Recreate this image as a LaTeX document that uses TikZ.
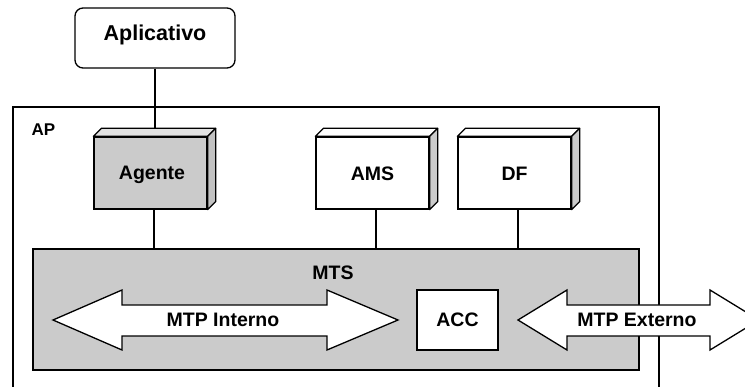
\documentclass[tikz,border=0pt]{standalone}
\usepackage{fontspec}
\setmainfont{Liberation Sans}
\usetikzlibrary{calc}
\definecolor{shade}{HTML}{CBCBCB}
\definecolor{shadetop}{HTML}{E2E2E2}
\definecolor{shadeside}{HTML}{C2C2C2}
\begin{document}
\begin{tikzpicture}[x=1pt,y=-1pt,
  txt/.style={font=\bfseries\fontsize{19.5}{21}\selectfont},
  frame/.style={draw=black,line width=1.3pt},
  front/.style={frame,minimum width=113pt,minimum height=72pt,inner sep=0pt,txt},
  link/.style={draw=black,line width=2pt},
  bigarrow/.style={frame,fill=white,line join=miter}]
\useasboundingbox (0,0) rectangle (745,387);
\clip (0,0) rectangle (745,387);
\fill[white] (0,0) rectangle (745,387);

% agent platform frame, open at the bottom of the page
\draw[frame] (13,400) -- (13,107) -- (659,107) -- (659,400);
\node[txt,font=\bfseries\fontsize{17}{19}\selectfont,anchor=west] (ap) at (28,130) {AP};

% application box
\node[frame,rounded corners=8pt,minimum width=160pt,minimum height=60pt,inner sep=0pt] (apl) at (155,38) {};
\node[txt,font=\bfseries\fontsize{21.5}{23}\selectfont] (apltxt) at (155,35) {Aplicativo};

% platform components drawn as blocks with a top and a side face
\node[front,fill=shade] (agente) at (150.5,173) {};
\node[front,fill=white] (ams) at (372.5,173) {};
\node[front,fill=white] (df) at (514.5,173) {};
\node[txt] (agtxt) at (152,175) {Agente};
\node[txt] (amstxt) at (372.5,174) {AMS};
\node[txt] (dftxt) at (514.5,174) {DF};

\foreach \b/\top/\side in {agente/shadetop/shadeside, ams/white/shade, df/white/shade}{
  \draw[frame,fill=\top,line join=round] (\b.north west) -- ($(\b.north west)+(8,-8)$)
     -- ($(\b.north east)+(8,-8)$) -- (\b.north east) -- cycle;
  \draw[frame,fill=\side,line join=round] (\b.north east) -- ($(\b.north east)+(8,-8)$)
     -- ($(\b.south east)+(8,-8)$) -- (\b.south east) -- cycle;
  \coordinate (\b-top) at ($(\b.north)+(3,-8)$);
  \coordinate (\b-bot) at ($(\b.south)+(3,0)$);
}

% message transport system
\node[frame,fill=shade,minimum width=606pt,minimum height=121pt,inner sep=0pt] (mts) at (336,309.5) {};
\node[txt] (mtslbl) at (333,273) {MTS};
\node[frame,fill=white,minimum width=81pt,minimum height=60pt,inner sep=0pt,txt] (acc) at (457.5,320) {ACC};

% connectors
\draw[link] (apl.south) -- (apl.south |- agente-top);
\foreach \b in {agente,ams,df}
  \draw[link] (\b-bot) -- (\b-bot |- mts.north);

% internal transport protocol
\draw[bigarrow] (53,320) -- (122,290) -- (122,305) -- (327,305) -- (327,290) -- (398,320)
  -- (327,350) -- (327,336) -- (122,336) -- (122,350) -- cycle;
\node[txt] (mtpi) at (223,320) {MTP Interno};

% external transport protocol
\draw[bigarrow] (518,320) -- (567,290) -- (567,305) -- (710,305) -- (710,290) -- (759,320)
  -- (710,350) -- (710,336) -- (567,336) -- (567,350) -- cycle;
\node[txt] (mtpe) at (637,320) {MTP Externo};
\end{tikzpicture}
\end{document}
